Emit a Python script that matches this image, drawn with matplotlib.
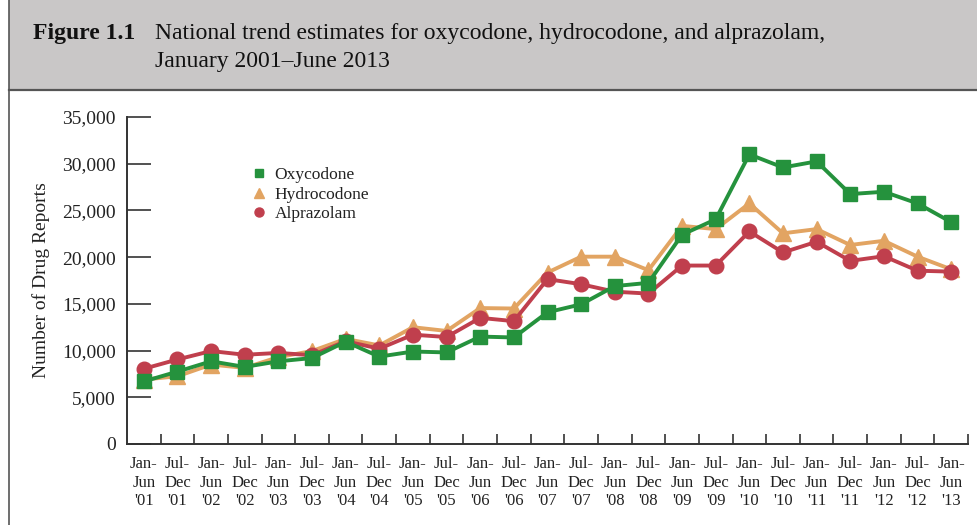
import matplotlib
matplotlib.use("Agg")
import matplotlib.pyplot as plt
from matplotlib.patches import Rectangle
from matplotlib.lines import Line2D

periods = ["Jan-\nJun\n'01", "Jul-\nDec\n'01", "Jan-\nJun\n'02", "Jul-\nDec\n'02",
           "Jan-\nJun\n'03", "Jul-\nDec\n'03", "Jan-\nJun\n'04", "Jul-\nDec\n'04",
           "Jan-\nJun\n'05", "Jul-\nDec\n'05", "Jan-\nJun\n'06", "Jul-\nDec\n'06",
           "Jan-\nJun\n'07", "Jul-\nDec\n'07", "Jan-\nJun\n'08", "Jul-\nDec\n'08",
           "Jan-\nJun\n'09", "Jul-\nDec\n'09", "Jan-\nJun\n'10", "Jul-\nDec\n'10",
           "Jan-\nJun\n'11", "Jul-\nDec\n'11", "Jan-\nJun\n'12", "Jul-\nDec\n'12",
           "Jan-\nJun\n'13"]

oxycodone = [6700, 7750, 8850, 8250, 8850, 9200, 10950, 9350, 9900, 9800, 11500, 11400,
             14100, 14950, 16900, 17250, 22400, 24050, 31000, 29600, 30250, 26750,
             27000, 25750, 23750]
hydrocodone = [6900, 7250, 8500, 8150, 9300, 9950, 11250, 10550, 12500, 12100, 14550, 14500,
               18350, 20050, 20050, 18600, 23350, 23000, 25750, 22550, 23000, 21300,
               21750, 20050, 18700]
alprazolam = [8050, 9050, 9950, 9550, 9750, 9500, 11000, 10200, 11700, 11450, 13500, 13150,
              17650, 17100, 16300, 16100, 19100, 19100, 22750, 20500, 21650, 19600,
              20100, 18550, 18450]

yticks = [0, 5000, 10000, 15000, 20000, 25000, 30000, 35000]
ytick_labels = ["0", "5,000", "10,000", "15,000", "20,000", "25,000", "30,000", "35,000"]

green = "#25923d"
orange = "#e2a462"
red = "#c03f4d"
txt = "#222222"

plt.rcParams['font.family'] = ['Liberation Serif', 'DejaVu Serif']

fig = plt.figure(figsize=(9.77, 5.25), dpi=100)

# Title band
band = Rectangle((9/977, 1 - 89/525), 1 - 9/977, 89/525, transform=fig.transFigure,
                 facecolor="#c9c7c7", edgecolor="none", zorder=0)
fig.patches.append(band)
fig.lines.append(Line2D([9/977, 1], [1 - 89.5/525, 1 - 89.5/525], transform=fig.transFigure,
                        color="#555555", lw=1.6))
fig.lines.append(Line2D([8.5/977, 8.5/977], [0, 1], transform=fig.transFigure,
                        color="#555555", lw=1.2))

fig.text(33/977, 1 - 33/525, "Figure 1.1", fontsize=17, fontweight="bold", color="#111111",
         va="center", ha="left")
fig.text(155/977, 1 - 33/525, "National trend estimates for oxycodone, hydrocodone, and alprazolam,",
         fontsize=17, color="#111111", va="center", ha="left")
fig.text(155/977, 1 - 62/525, "January 2001\u2013June 2013",
         fontsize=17, color="#111111", va="center", ha="left")

ax = fig.add_axes([127/977, 1 - 444/525, (968 - 127)/977, (444 - 117)/525])
x = list(range(len(periods)))

ax.plot(x, hydrocodone, color=orange, lw=2.8, marker="^", ms=11, zorder=3)
ax.plot(x, alprazolam, color=red, lw=2.8, marker="o", ms=10.5, zorder=4)
ax.plot(x, oxycodone, color=green, lw=2.8, marker="s", ms=10, zorder=5)

ax.set_xlim(-0.5, len(periods) - 0.5)
ax.set_ylim(0, 35000)
ax.set_yticks(yticks)
ax.set_yticklabels(ytick_labels, fontsize=14, color=txt)
ax.tick_params(axis="y", direction="in", length=17, width=1.2, pad=8, colors="#333333",
               labelcolor=txt)

ax.set_xticks([i - 0.5 for i in range(1, len(periods) + 1)])
ax.set_xticklabels([])
ax.set_xticks(x, minor=True)
ax.set_xticklabels(periods, minor=True, fontsize=12, color=txt, linespacing=1.2)
ax.tick_params(axis="x", which="major", direction="in", length=7, width=1.2, colors="#333333")
ax.tick_params(axis="x", which="minor", length=0, pad=9)

for s in ["top", "right"]:
    ax.spines[s].set_visible(False)
for s in ["left", "bottom"]:
    ax.spines[s].set_linewidth(1.4)
    ax.spines[s].set_color("#333333")

ax.set_ylabel("Number of Drug Reports", fontsize=14, color=txt)
ax.yaxis.set_label_coords(-77/841, 0.5)

handles = [
    Line2D([], [], color=green, marker="s", ls="none", ms=6),
    Line2D([], [], color=orange, marker="^", ls="none", ms=7),
    Line2D([], [], color=red, marker="o", ls="none", ms=6.5),
]
leg = ax.legend(handles, ["Oxycodone", "Hydrocodone", "Alprazolam"], loc="upper left",
                bbox_to_anchor=(118/841, 1 - 43/327), frameon=False, fontsize=12.5,
                handlelength=0.8, handletextpad=0.5, labelspacing=0.2, borderaxespad=0)
for t in leg.get_texts():
    t.set_color(txt)

fig.savefig("out.png", dpi=100)
